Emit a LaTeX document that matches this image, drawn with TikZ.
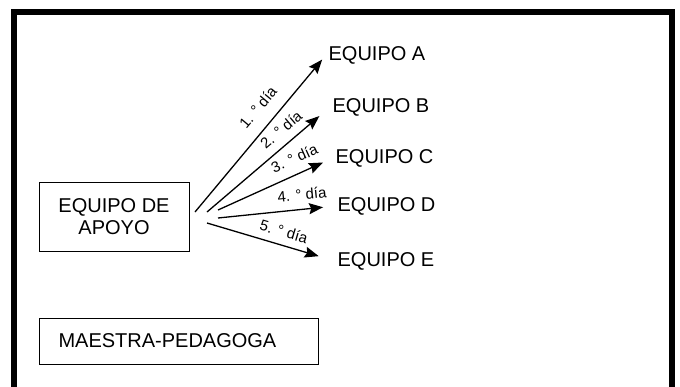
\documentclass[tikz,border=0pt]{standalone}
\usepackage{fontspec}
\setmainfont{Liberation Sans}
\usetikzlibrary{arrows.meta}

\begin{document}
\begin{tikzpicture}[x=1pt,y=-1pt,->,>={Stealth[length=14pt,width=11pt,inset=2pt]},line width=1.3pt,
  box/.style={draw,-,line width=1pt,font=\fontsize{20}{22}\selectfont,inner sep=0pt},
  team/.style={anchor=west,font=\fontsize{20}{22}\selectfont,inner sep=2pt},
  day/.style={font=\fontsize{15}{16}\selectfont,sloped,above=5pt,inner sep=0.5pt}]

 \useasboundingbox[fill=white] (0,0) rectangle (680,386);
 % heavy frame, open at the bottom
 \draw[-,line width=6.5pt,line join=miter] (14,400) -- (14,12) -- (672,12) -- (672,400);

 \node[box,align=center,minimum width=150pt,minimum height=69pt] (apoyo) at (114,216.5) {EQUIPO DE\\APOYO};
 \node[box,anchor=west,text width=241pt,inner xsep=19pt,minimum height=46pt] (maestra) at (39,341) {MAESTRA-PEDAGOGA};

 \node[team] (eqA) at (326,55)  {EQUIPO A};
 \node[team] (eqB) at (330,107) {EQUIPO B};
 \node[team] (eqC) at (333,158) {EQUIPO C};
 \node[team] (eqD) at (335,206) {EQUIPO D};
 \node[team] (eqE) at (335,261) {EQUIPO E};

 % where each arrow leaves, just right of the box
 \coordinate (s1) at (195,212);
 \coordinate (s2) at (207,212);
 \coordinate (s3) at (218,210);
 \coordinate (s4) at (218,218);
 \coordinate (s5) at (207,223);

 \path
    (s1) edge[shorten >=6pt]  node[day,pos=0.59,above=7pt] {1. ° día} (eqA.west)
    (s2) edge[shorten >=14pt] node[day,pos=0.68,above=3pt] {2. ° día} (eqB.west)
    (s3) edge[shorten >=11pt] node[day,pos=0.72,above=4pt] {3. ° día} (eqC.west)
    (s4) edge[shorten >=12pt] node[day,pos=0.73,above=3pt] {4. ° día} (eqD.west)
    (s5) edge[shorten >=17pt] node[day,pos=0.57,above=2pt] {5. ° día} (eqE.west);

\end{tikzpicture}
\end{document}
